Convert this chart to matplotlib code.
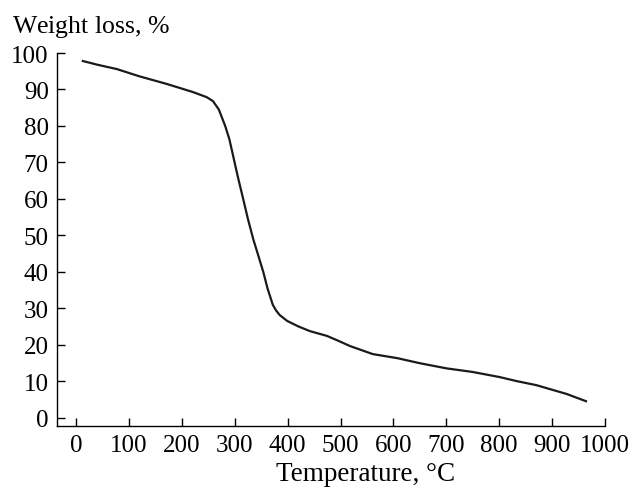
import matplotlib
matplotlib.use("Agg")
import matplotlib.pyplot as plt

temperature = [13, 40, 77, 120, 172, 221, 247, 259, 270, 282, 290, 297, 306, 316, 325, 335, 345, 354, 362,
               372, 378, 385, 399, 420, 442, 474, 495, 518, 561, 607, 650, 700, 750, 801, 833, 870, 896, 927, 964]
weight = [97.8, 96.8, 95.6, 93.6, 91.5, 89.3, 87.9, 86.8, 84.5, 80, 76.3, 71.8, 66, 60, 54.5, 49, 44.3, 40, 35.5,
          31.0, 29.5, 28.2, 26.6, 25.1, 23.8, 22.5, 21.2, 19.7, 17.5, 16.4, 15.0, 13.6, 12.6, 11.2, 10.1, 9.0,
          7.9, 6.6, 4.6]
xticks = list(range(0, 1001, 100))
yticks = list(range(0, 101, 10))

plt.rcParams['font.family'] = ['Liberation Serif', 'DejaVu Serif']
plt.rcParams['mathtext.fontset'] = 'custom'
plt.rcParams['mathtext.rm'] = 'Liberation Serif'
plt.rcParams['mathtext.it'] = 'Liberation Serif:italic'
fig = plt.figure(figsize=(6.33, 4.89), dpi=100)
ax = fig.add_axes([57/633, 1-427/489, (605-57)/633, (427-54)/489])
ax.plot(temperature, weight, color='#1a1a1a', lw=1.6)
ax.set_xlim(-36, 1000)
ax.set_ylim(-2.2, 100)
ax.set_xticks(xticks)
ax.set_yticks(yticks)
ax.spines['top'].set_visible(False)
ax.spines['right'].set_visible(False)
for s in ['left', 'bottom']:
    ax.spines[s].set_linewidth(1.0)
ax.tick_params(direction='in', length=6, width=1.0, labelsize=18, pad=6)
fig.text(366/633, 2/489, 'Temperature, °C', fontsize=19.5, ha='center', va='bottom')
fig.text(12/633, 1-33/489, r'Weight loss, $\mathit{\%}$', fontsize=18.5, ha='left', va='baseline')
fig.savefig('out.png', dpi=100)
